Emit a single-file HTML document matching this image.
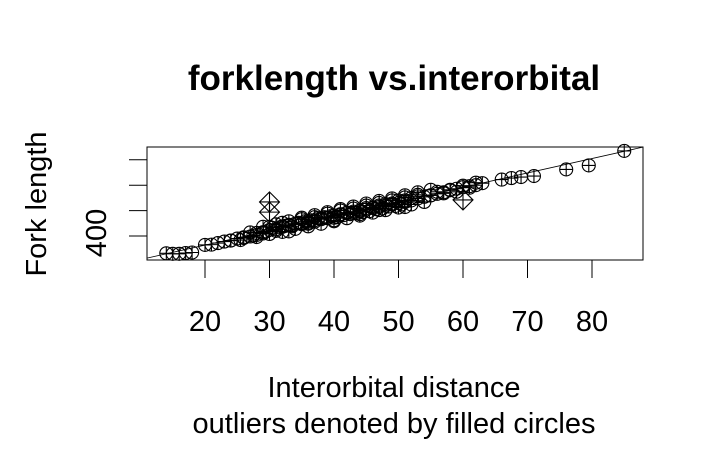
<!DOCTYPE html>
<html><head><meta charset="utf-8"><style>
body{margin:0;background:#fff;font-family:"Liberation Sans",Arial,sans-serif}
svg text{font-family:"Liberation Sans",Arial,sans-serif}
</style></head><body>
<svg id="c" width="720" height="444" xmlns="http://www.w3.org/2000/svg">
<rect width="720" height="444" fill="#fff"/>
<text x="394" y="90" text-anchor="middle" font-size="35" font-weight="bold">forklength vs.interorbital</text>
<text x="394" y="397" text-anchor="middle" font-size="29">Interorbital distance</text>
<text x="394" y="433" text-anchor="middle" font-size="29">outliers denoted by filled circles</text>
<text transform="translate(46,204) rotate(-90)" text-anchor="middle" font-size="29">Fork length</text>
<rect x="147" y="147" width="496" height="113" fill="none" stroke="#000"/>
<g id="g"></g>
</svg>
<script>
const xTicks=[20,30,40,50,60,70,80];
const yTicks=[400,500,600,700];
const yTickLabels=["400","","",""];
const px=[14,15,16,17,18,20,21,22,23,24,25,25.5,26,27,27.5,28,29,29.5,30,30.5,31,31.5,32,32.5,33,33.5,34,34.5,35,35.5,36,36.5,37,37.5,38,38.5,39,39.5,40,40.5,41,41.5,42,42.5,43,43.5,44,44.5,45,45.5,46,46.5,47,47.5,48,48.5,49,49.5,50,50.5,51,52,53,54,55,56,57,58,59,60,61,62,63,66,67.5,69,71,76,79.5,85,
24,26,28,29,31,32,33,34,35,36,37,38,39,40,41,42,43,44,45,46,47,48,49,50,51,52,53,55,57,59,61,62,40,44,47,51,36,33,
27,30,32,35,37,39,41,43,45,47,49,51,53,56,58,60,
29,31,33,35,37,39,41,43,45,47,49,51,53,55,
28,30,32,34,36,38,40,42,44,46,48,50,52,54];
const py=[332,330,330,333,335,365,366,372,378,382,390,384,395,398,402,412,410,418,424,432,426,434,436,440,444,438,448,452,446,458,452,462,456,470,466,474,470,478,480,474,486,482,492,486,496,490,500,494,504,498,510,506,514,508,520,516,524,518,530,524,534,540,548,554,560,566,572,580,586,592,596,600,608,622,628,632,636,662,678,735,
382,392,404,415,420,438,442,448,450,458,462,470,472,472,484,490,490,496,510,512,520,526,528,540,540,550,556,560,568,574,590,610,462,486,502,514,448,418,
414,436,452,466,474,488,500,508,520,530,540,552,562,574,582,598,
436,446,458,472,482,494,506,516,528,538,548,560,572,582,
396,408,416,428,438,448,458,470,480,492,502,512,524,534];
const ox=[30,30,60];
const oy=[534,494,542];
const lineX=[11,87.9];
const lineY=[313,750];
const X=v=>205+(v-20)*6.45, Y=v=>236-(v-400)*0.254;
const NS="http://www.w3.org/2000/svg", g=document.getElementById('g'), svg=document.getElementById('c');
function mk(t,a,p){const e=document.createElementNS(NS,t);for(const k in a)e.setAttribute(k,a[k]);(p||g).appendChild(e);return e;}
xTicks.forEach(t=>{
 const l=mk('line',{x1:X(t),x2:X(t),y1:260,y2:278,stroke:'#000'});
 
 
 const tx=mk('text',{x:X(t),y:331,'text-anchor':'middle','font-size':29});tx.textContent=t;
 
 
});
yTicks.forEach((t,i)=>{
 const l=mk('line',{x1:129,x2:147,y1:Y(t),y2:Y(t),stroke:'#000'});
 
 
 if(yTickLabels[i]){const tx=mk('text',{transform:`translate(106,${Y(t)-3}) rotate(-90)`,'text-anchor':'middle','font-size':29});tx.textContent=yTickLabels[i];
 
 }
});
const fl=mk('line',{x1:X(lineX[0]),y1:Y(lineY[0]),x2:X(lineX[1]),y2:Y(lineY[1]),stroke:'#000','stroke-width':0.8});


px.forEach((v,i)=>{
 const cx=X(v),cy=Y(py[i]),r=6.5;
 const gg=mk('g',{fill:'none',stroke:'#000','stroke-width':1.1});
 
 
 mk('circle',{cx,cy,r},gg);
 mk('path',{d:`M${cx-r} ${cy}H${cx+r}M${cx} ${cy-r}V${cy+r}`},gg);
});
ox.forEach((v,i)=>{
 const cx=X(v),cy=Y(oy[i]),r=10;
 const gg=mk('g',{fill:'none',stroke:'#000','stroke-width':1.1});
 
 
 mk('path',{d:`M${cx} ${cy-r}L${cx+r} ${cy}L${cx} ${cy+r}L${cx-r} ${cy}ZM${cx-r} ${cy}H${cx+r}M${cx} ${cy-r}V${cy+r}`},gg);
});
</script>
</body></html>
